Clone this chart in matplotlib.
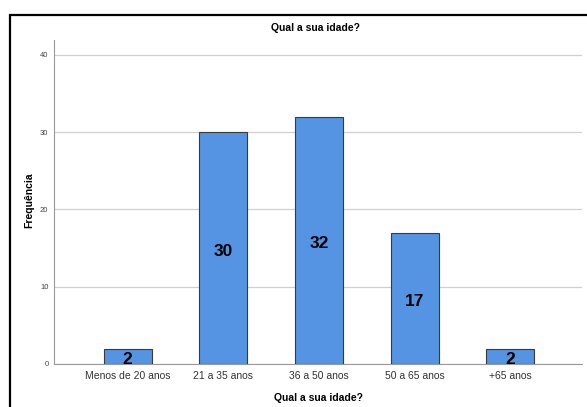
import matplotlib.pyplot as plt
from matplotlib.patches import Rectangle

# Dados
faixas = ['Menos de 20 anos', '21 a 35 anos', '36 a 50 anos', '50 a 65 anos', '+65 anos']
frequencia = [2, 30, 32, 17, 2]
yticks = [0, 10, 20, 30, 40]

plt.rcParams['font.family'] = ['Liberation Sans Narrow', 'Liberation Sans', 'DejaVu Sans']

fig = plt.figure(figsize=(5.87, 4.07), dpi=100)
ax = fig.add_axes([54 / 587, 1 - 364 / 407, (582 - 54) / 587, (364 - 40) / 407])

# moldura preta (borda esquerda e superior)
fig.patches.append(Rectangle((9.5 / 587, -0.1), 1.2, 1 - 15.5 / 407 + 0.1,
                             transform=fig.transFigure, fill=False,
                             edgecolor='black', linewidth=1.6))

x = range(len(faixas))
bars = ax.bar(x, frequencia, width=0.5, color='#5593E3', edgecolor='#3a3a3a',
              linewidth=0.8, zorder=3)
for xi, v in zip(x, frequencia):
    ax.text(xi, v / 2 - 0.4, str(v), ha='center', va='center', fontsize=12.5,
            fontweight='bold', color='black', zorder=4)

ax.set_xlim(-0.77, 4.75)
ax.set_ylim(0, 41.9)
ax.set_yticks(yticks)
ax.set_xticks(list(x))
ax.set_xticklabels(faixas, fontsize=7.5, color='#333333')
ax.tick_params(axis='y', labelsize=5.5, labelcolor='#444444', length=0, pad=4)
ax.tick_params(axis='x', length=0, pad=5)
ax.grid(axis='y', color='#d0d0d0', linewidth=0.9, zorder=0)

for s in ['top', 'right']:
    ax.spines[s].set_visible(False)
ax.spines['left'].set_color('#999999')
ax.spines['bottom'].set_color('#999999')

ax.set_ylabel('Frequência', fontsize=7.5, fontweight='bold')
ax.yaxis.set_label_coords(-0.037, 0.506)
ax.set_xlabel('Qual a sua idade?', fontsize=7.5, fontweight='bold', labelpad=9)
fig.text((54 + 582) / 2 / 587 - 0.005, 1 - 28 / 407, 'Qual a sua idade?', ha='center',
         va='center', fontsize=7.5, fontweight='bold')

fig.savefig('out.png', dpi=100)
